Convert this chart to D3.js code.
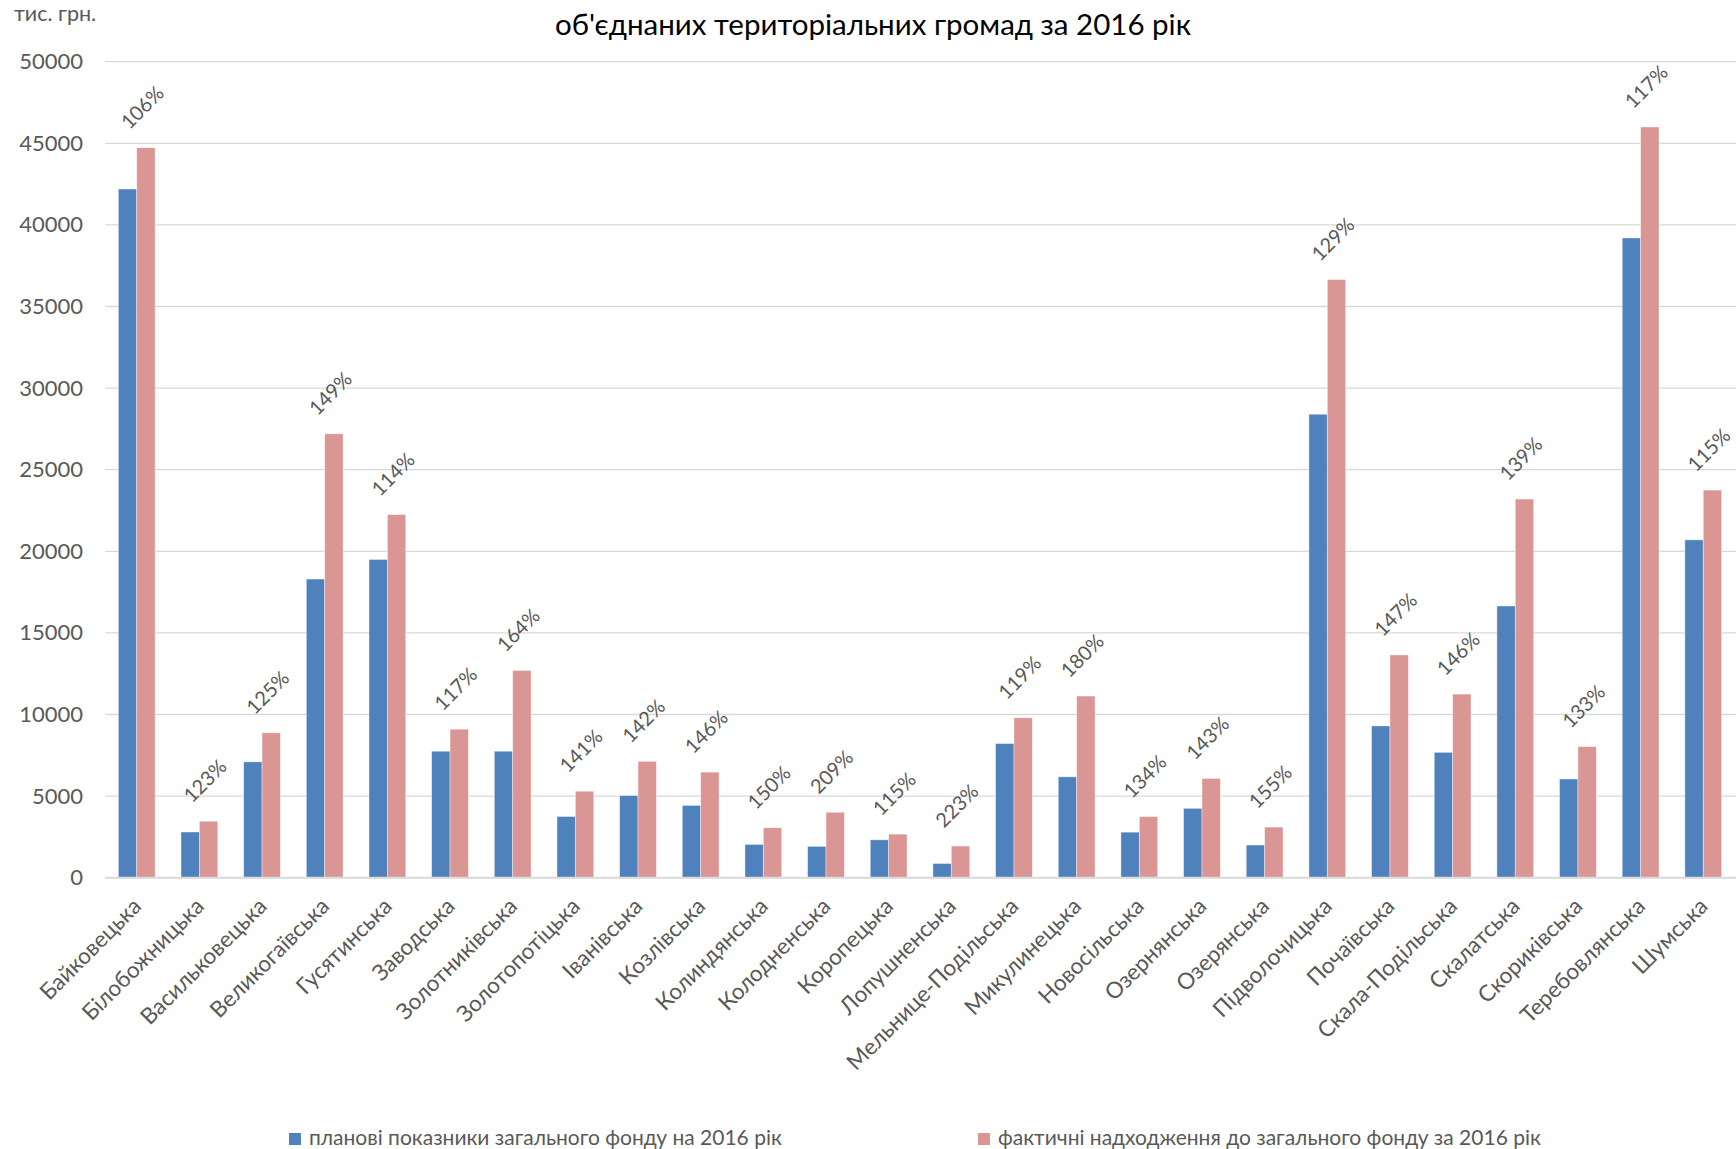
<!DOCTYPE html>
<html>
<head>
<meta charset="utf-8">
<script src="https://cdn.jsdelivr.net/npm/d3@7"></script>
<style>
  body { margin: 0; background: #fff; }
  svg text { font-family: Lato, "Open Sans", sans-serif; }
</style>
</head>
<body>
<script>
const WIDTH = 1736;
const HEIGHT = 1149;

// громади (categories)
var categories = ["Байковецька", "Білобожницька", "Васильковецька", "Великогаївська", "Гусятинська",
    "Заводська", "Золотниківська", "Золотопотіцька", "Іванівська", "Козлівська", "Колиндянська",
    "Колодненська", "Коропецька", "Лопушненська", "Мельнице-Подільська", "Микулинецька",
    "Новосільська", "Озернянська", "Озерянська", "Підволочицька", "Почаївська", "Скала-Подільська",
    "Скалатська", "Скориківська", "Теребовлянська", "Шумська"];

// планові показники, тис. грн.
var plan = [42200, 2800, 7100, 18300, 19500, 7750, 7750, 3750, 5030, 4430, 2040, 1920, 2320, 870,
    8220, 6180, 2790, 4250, 2000, 28400, 9300, 7680, 16650, 6050, 39200, 20700];

// фактичні надходження, тис. грн.
var fact = [44730, 3460, 8880, 27200, 22250, 9100, 12700, 5300, 7130, 6470, 3060, 4010, 2670, 1940,
    9800, 11130, 3740, 6080, 3100, 36650, 13650, 11250, 23200, 8030, 46000, 23750];

// виконання, %
var pct = ["106%", "123%", "125%", "149%", "114%", "117%", "164%", "141%", "142%", "146%", "150%",
    "209%", "115%", "223%", "119%", "180%", "134%", "143%", "155%", "129%", "147%", "146%", "139%",
    "133%", "117%", "115%"];

var yTicks = [0, 5000, 10000, 15000, 20000, 25000, 30000, 35000, 40000, 45000, 50000];
var seriesNames = ["планові показники загального фонду на 2016 рік", "фактичні надходження до загального фонду за 2016 рік"];
var colors = ["#4f81bd", "#d99694"];

var svg = d3.select("body").append("svg")
    .attr("width", WIDTH)
    .attr("height", HEIGHT);

var x = d3.scaleBand()
    .domain(categories)
    .range([105.4, 1734.6])
    .paddingInner(0.413)
    .paddingOuter(0.2065);

var x1 = d3.scaleBand()
    .domain([0, 1])
    .range([0, x.bandwidth()]);

var y = d3.scaleLinear()
    .domain([0, 50000])
    .range([877.7, 61.7]);

// gridlines
svg.append("g").selectAll("line")
    .data(yTicks.slice(1))
    .join("line")
    .attr("x1", 105)
    .attr("x2", WIDTH)
    .attr("y1", d => y(d))
    .attr("y2", d => y(d))
    .attr("stroke", "#d9d9d9")
    .attr("stroke-width", 1.3);

// y axis labels
var yAxis = svg.append("g")
    .attr("transform", "translate(83,0)")
    .call(d3.axisLeft(y).tickValues(yTicks).tickFormat(d3.format("d")).tickSize(0).tickPadding(0));
yAxis.select(".domain").remove();
yAxis.selectAll("text")
    .attr("fill", "#595959")
    .style("font-size", "22px");

svg.append("text")
    .attr("x", 14)
    .attr("y", 21)
    .attr("fill", "#595959")
    .style("font-size", "21.5px")
    .text("тис. грн.");

// bars
var groups = svg.append("g").selectAll("g")
    .data(categories)
    .join("g")
    .attr("transform", d => "translate(" + x(d) + ",0)");

groups.selectAll("rect")
    .data((d, i) => [plan[i], fact[i]])
    .join("rect")
    .attr("x", (d, j) => x1(j))
    .attr("width", x1.bandwidth())
    .attr("y", d => y(d))
    .attr("height", d => y(0) - y(d))
    .attr("fill", (d, j) => colors[j])
    .attr("stroke", "#fff")
    .attr("stroke-opacity", 0.5)
    .attr("stroke-width", 0.8);

// x axis line
svg.append("line")
    .attr("x1", 105)
    .attr("x2", WIDTH)
    .attr("y1", y(0))
    .attr("y2", y(0))
    .attr("stroke", "#d9d9d9")
    .attr("stroke-width", 2);

// percentage labels above the bars
svg.append("g").selectAll("text")
    .data(categories)
    .join("text")
    .attr("transform", (d, i) => "translate(" + (x(d) + x.bandwidth() / 2 + 5) + "," + (y(fact[i]) - 41) + ") rotate(-45)")
    .attr("text-anchor", "middle")
    .attr("dominant-baseline", "central")
    .attr("fill", "#595959")
    .style("font-size", "20px")
    .text((d, i) => pct[i]);

// category labels
svg.append("g").selectAll("text")
    .data(categories)
    .join("text")
    .attr("transform", d => "translate(" + (x(d) + x.bandwidth() / 2 + 6) + "," + (y(0) + 30) + ") rotate(-45)")
    .attr("text-anchor", "end")
    .attr("fill", "#595959")
    .style("font-size", "22.5px")
    .text(d => d);

// title (second line)
svg.append("text")
    .attr("x", 873)
    .attr("y", 35)
    .attr("text-anchor", "middle")
    .attr("fill", "#000")
    .style("font-size", "29.5px")
    .text("об'єднаних територіальних громад за 2016 рік");

// legend
var legendX = [289, 978];
var legend = svg.append("g").selectAll("g")
    .data(seriesNames)
    .join("g")
    .attr("transform", (d, i) => "translate(" + legendX[i] + ",1133)");

legend.append("rect")
    .attr("width", 12)
    .attr("height", 12)
    .attr("fill", (d, i) => colors[i]);

legend.append("text")
    .attr("x", 20)
    .attr("y", 12)
    .attr("fill", "#595959")
    .style("font-size", "21px")
    .text(d => d);
</script>
</body>
</html>
